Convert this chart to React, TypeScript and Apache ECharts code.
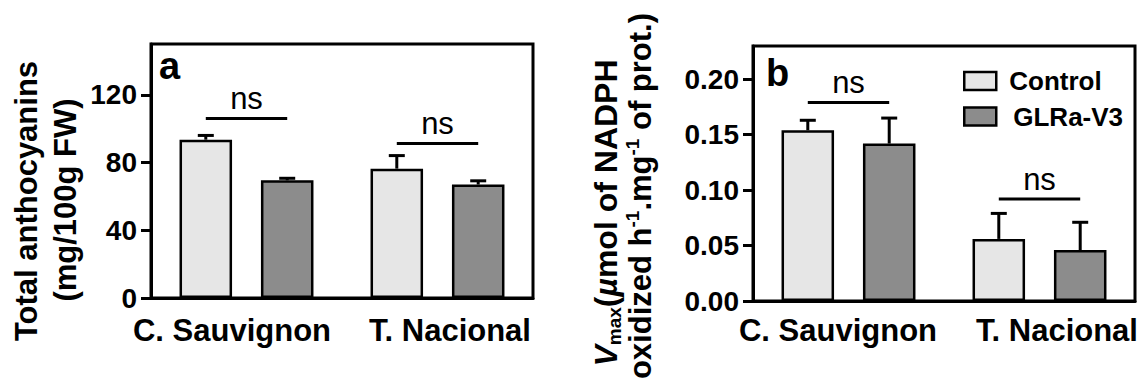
import React, { useEffect, useRef } from 'react';
import * as echarts from 'echarts';

const categories = ['C. Sauvignon', 'T. Nacional'];
const seriesNames = ['Control', 'GLRa-V3'];

// Panel a: total anthocyanins (mg/100g FW), mean and error
const anthoControl = [93.5, 76.4];
const anthoControlErr = [2.5, 7.7];
const anthoVirus = [69.5, 67.0];
const anthoVirusErr = [1.2, 2.2];
const anthoNsLevel = [106, 91.2];
const anthoTicks = [0, 40, 80, 120];
const anthoMax = 150;

// Panel b: Vmax (µmol NADPH oxidized per h per mg protein), mean and error
const vmaxControl = [0.154, 0.056];
const vmaxControlErr = [0.009, 0.023];
const vmaxVirus = [0.142, 0.046];
const vmaxVirusErr = [0.023, 0.025];
const vmaxNsLevel = [0.179, 0.092];
const vmaxTicks = [0, 0.05, 0.1, 0.15, 0.2];
const vmaxMax = 0.23;

const FONT = '"Liberation Sans", Arial, Helvetica, sans-serif';
const LIGHT = '#e6e6e6';
const DARK = '#8c8c8c';
const BAR_RATIO = 0.275;
const GAP_RATIO = 0.55;
// distance from band centre to each bar centre, as a share of the band
const BAR_OFFSET = (BAR_RATIO * (1 + GAP_RATIO)) / 2;

const errorBarRenderer = (side: number) => (params: any, api: any) => {
  const idx = api.value(0);
  const mean = api.value(1);
  const err = api.value(2);
  const base = api.coord([idx, mean]);
  const top = api.coord([idx, mean + err]);
  const band = api.size([1, 0])[0];
  const x = base[0] + side * band * BAR_OFFSET;
  const half = 8;
  const style = { stroke: '#000', lineWidth: 3 };
  return {
    type: 'group',
    children: [
      { type: 'line', shape: { x1: x, y1: base[1], x2: x, y2: top[1] }, style },
      { type: 'line', shape: { x1: x - half, y1: top[1], x2: x + half, y2: top[1] }, style },
    ],
  };
};

const nsRenderer = (params: any, api: any) => {
  const idx = api.value(0);
  const level = api.value(1);
  const p = api.coord([idx, level]);
  const band = api.size([1, 0])[0];
  const x1 = p[0] - band * BAR_OFFSET;
  const x2 = p[0] + band * BAR_OFFSET;
  return {
    type: 'group',
    children: [
      { type: 'line', shape: { x1, y1: p[1], x2, y2: p[1] }, style: { stroke: '#000', lineWidth: 3 } },
      {
        type: 'text',
        x: p[0],
        y: p[1] - 20,
        style: {
          text: 'ns',
          fill: '#000',
          fontSize: 31,
          fontFamily: FONT,
          align: 'center',
          verticalAlign: 'middle',
        },
      },
    ],
  };
};

function panelSeries(
  idx: number,
  control: number[],
  controlErr: number[],
  virus: number[],
  virusErr: number[],
  ns: number[]
) {
  const barStyle = (color: string) => ({ color, borderColor: '#000', borderWidth: 2.5 });
  return [
    {
      name: seriesNames[0],
      type: 'bar',
      xAxisIndex: idx,
      yAxisIndex: idx,
      data: control,
      barWidth: `${BAR_RATIO * 100}%`,
      barGap: `${GAP_RATIO * 100}%`,
      itemStyle: barStyle(LIGHT),
      z: 2,
    },
    {
      name: seriesNames[1],
      type: 'bar',
      xAxisIndex: idx,
      yAxisIndex: idx,
      data: virus,
      barWidth: `${BAR_RATIO * 100}%`,
      barGap: `${GAP_RATIO * 100}%`,
      itemStyle: barStyle(DARK),
      z: 2,
    },
    {
      name: 'err-control-' + idx,
      type: 'custom',
      xAxisIndex: idx,
      yAxisIndex: idx,
      data: control.map((v, i) => [i, v, controlErr[i]]),
      encode: { x: 0, y: 1 },
      renderItem: errorBarRenderer(-1),
      z: 3,
    },
    {
      name: 'err-virus-' + idx,
      type: 'custom',
      xAxisIndex: idx,
      yAxisIndex: idx,
      data: virus.map((v, i) => [i, v, virusErr[i]]),
      encode: { x: 0, y: 1 },
      renderItem: errorBarRenderer(1),
      z: 3,
    },
    {
      name: 'ns-' + idx,
      type: 'custom',
      xAxisIndex: idx,
      yAxisIndex: idx,
      data: ns.map((v, i) => [i, v]),
      encode: { x: 0, y: 1 },
      renderItem: nsRenderer,
      z: 3,
    },
  ];
}

function xAxisFor(idx: number, margin: number, shifts: number[]) {
  return {
    type: 'category',
    gridIndex: idx,
    data: categories.map((c, i) => ({
      value: c,
      textStyle: {
        padding: shifts[i] < 0 ? [0, -2 * shifts[i], 0, 0] : [0, 0, 0, 2 * shifts[i]],
      },
    })),
    axisLine: { show: true, lineStyle: { color: '#000', width: 3 } },
    axisTick: { show: false },
    axisLabel: {
      interval: 0,
      hideOverlap: false,
      color: '#000',
      fontSize: 31,
      fontWeight: 'bold',
      fontFamily: FONT,
      margin,
    },
  };
}

function yAxisFor(idx: number, max: number, ticks: number[], fmt: (v: number) => string) {
  return {
    type: 'value',
    gridIndex: idx,
    min: 0,
    max,
    splitLine: { show: false },
    axisLine: { show: true, lineStyle: { color: '#000', width: 3 } },
    axisTick: { show: true, length: 10, lineStyle: { color: '#000', width: 3 }, customValues: ticks },
    axisLabel: {
      customValues: ticks,
      formatter: fmt,
      color: '#000',
      fontSize: 28,
      fontWeight: 'bold',
      fontFamily: FONT,
      margin: 14,
    },
  };
}

function rotatedText(x: number, y: number, text: string, extra: any = {}) {
  return {
    type: 'text',
    x,
    y,
    rotation: Math.PI / 2,
    style: {
      text,
      fill: '#000',
      fontSize: 31,
      fontWeight: 'bold',
      fontFamily: FONT,
      align: 'center',
      verticalAlign: 'middle',
      ...extra,
    },
  };
}

function titleRich(size: number) {
  const small = Math.round(size * 0.6);
  return {
    v: { fontSize: size, fontWeight: 'bold', fontStyle: 'italic', fontFamily: FONT, lineHeight: size + 4, fill: '#000' },
    sub: { fontSize: small, fontWeight: 'bold', fontFamily: FONT, lineHeight: small - 2, verticalAlign: 'bottom', fill: '#000' },
    sup: { fontSize: small, fontWeight: 'bold', fontFamily: FONT, lineHeight: small - 2, verticalAlign: 'top', fill: '#000' },
    mu: { fontSize: size, fontWeight: 'bold', fontStyle: 'italic', fontFamily: FONT, lineHeight: size + 4, fill: '#000' },
    n: { fontSize: size, fontWeight: 'bold', fontFamily: FONT, lineHeight: size + 4, fill: '#000' },
  };
}

export default function App() {
  const ref = useRef<HTMLDivElement>(null);

  useEffect(() => {
    if (!ref.current) return;
    const chart = echarts.init(ref.current, undefined, { renderer: 'svg' });
    const gridBase = { show: true, borderColor: '#000', borderWidth: 3, backgroundColor: 'transparent' };

    chart.setOption({
      animation: false,
      backgroundColor: '#fff',
      grid: [
        { ...gridBase, left: 151, top: 44, width: 382, height: 254 },
        { ...gridBase, left: 753, top: 46, width: 382, height: 255 },
      ],
      xAxis: [xAxisFor(0, 17, [-14.5, 12.5]), xAxisFor(1, 14, [-10.5, 17.5])],
      yAxis: [
        yAxisFor(0, anthoMax, anthoTicks, (v: number) => String(v)),
        yAxisFor(1, vmaxMax, vmaxTicks, (v: number) => v.toFixed(2)),
      ],
      legend: {
        data: seriesNames,
        orient: 'vertical',
        left: 958,
        top: 63,
        itemWidth: 32,
        itemHeight: 18,
        itemGap: 9.5,
        selectedMode: false,
        icon: 'rect',
        itemStyle: { borderColor: '#000', borderWidth: 2.5 },
        formatter: (name: string) => (name === 'GLRa-V3' ? `{g|${name}}` : `{c|${name}}`),
        textStyle: {
          color: '#000',
          fontSize: 26,
          fontWeight: 'bold',
          fontFamily: FONT,
          lineHeight: 22,
          rich: {
            c: { fontSize: 26, fontWeight: 'bold', fontFamily: FONT, color: '#000', padding: [0, 0, 0, 8] },
            g: { fontSize: 26, fontWeight: 'bold', fontFamily: FONT, color: '#000', padding: [0, 0, 0, 12] },
          },
        },
      },
      series: [
        ...panelSeries(0, anthoControl, anthoControlErr, anthoVirus, anthoVirusErr, anthoNsLevel),
        ...panelSeries(1, vmaxControl, vmaxControlErr, vmaxVirus, vmaxVirusErr, vmaxNsLevel),
      ],
      graphic: [
        {
          type: 'text',
          x: 159,
          y: 66,
          style: { text: 'a', fill: '#000', fontSize: 38, fontWeight: 'bold', fontFamily: FONT, align: 'left', verticalAlign: 'middle' },
        },
        {
          type: 'text',
          x: 766,
          y: 73,
          style: { text: 'b', fill: '#000', fontSize: 38, fontWeight: 'bold', fontFamily: FONT, align: 'left', verticalAlign: 'middle' },
        },
        rotatedText(26, 201, 'Total anthocyanins'),
        rotatedText(65, 200, '(mg/100g FW)'),
        rotatedText(606, 213, '{v|V}{sub|max}{n|(}{mu|µ}{n|mol of NADPH}', { rich: titleRich(32) }),
        rotatedText(640, 196, '{n|oxidized h}{sup|-1}{n|.mg}{sup|-1}{n| of prot.)}', { rich: titleRich(31) }),
      ],
    });

    return () => chart.dispose();
  }, []);

  return (
    <div
      ref={ref}
      style={{ position: 'absolute', left: 0, top: 0, width: 1147, height: 385, background: '#fff' }}
    />
  );
}
